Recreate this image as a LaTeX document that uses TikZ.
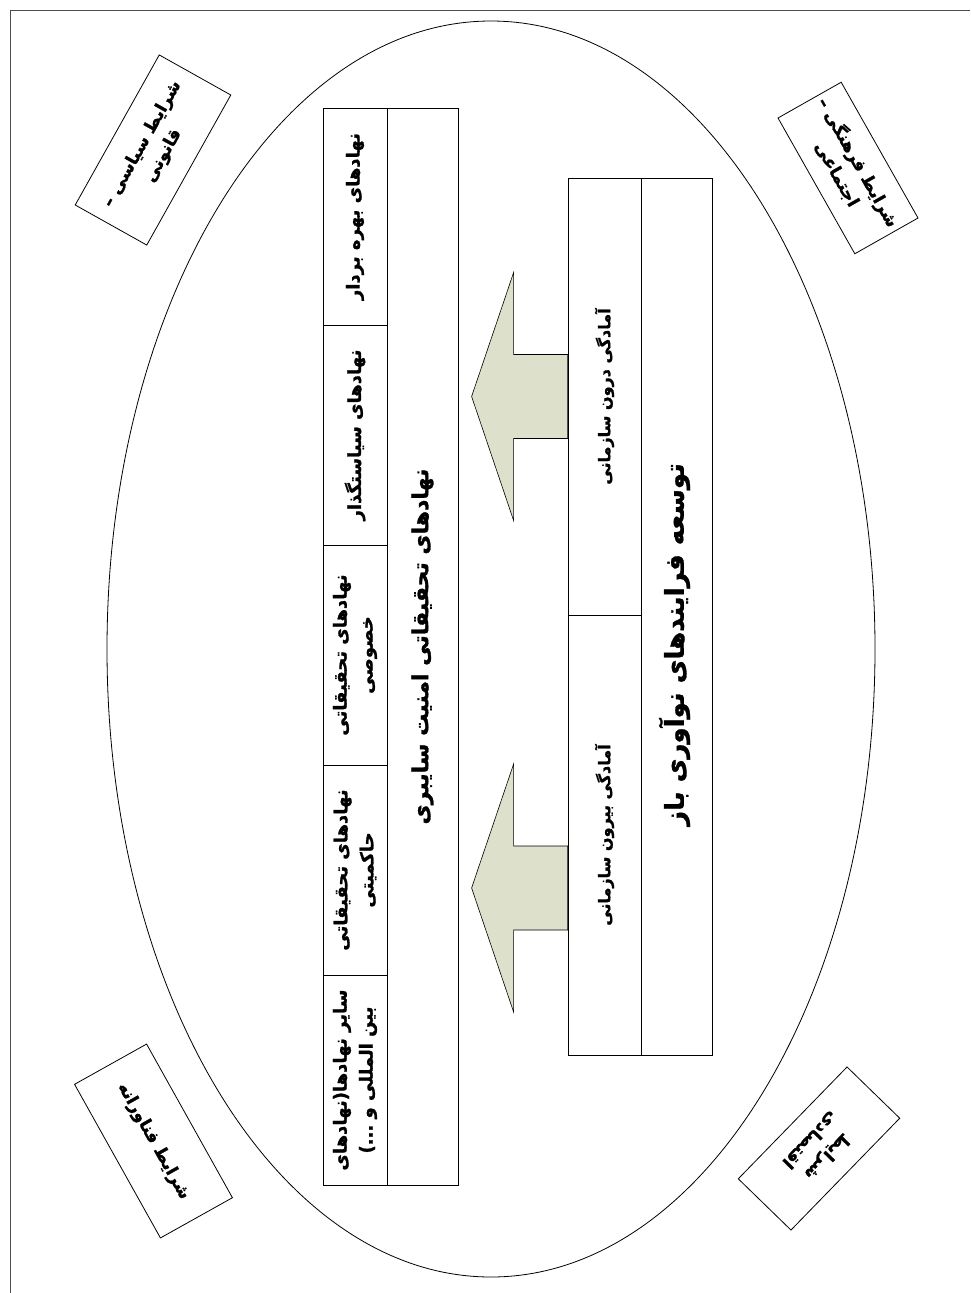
\documentclass[tikz,border=0pt]{standalone}
\usepackage{fontspec}
\newfontfamily\fa[Script=Arabic, BoldFont={DejaVu Sans Bold}, BoldFeatures={FakeBold=1.2}]{DejaVu Sans}
\TeXXeTstate=1
\definecolor{arrowfill}{RGB}{221,224,203}
\tikzset{
  frameline/.style={draw=black!70, line width=0.9pt},
  boxline/.style={draw, line width=0.8pt, inner sep=0pt, align=center},
  cornerbox/.style={boxline, font=\fa\bfseries\fontsize{17}{24}\selectfont},
  cell/.style={boxline, font=\fa\bfseries\fontsize{18}{26}\selectfont},
  smallcell/.style={boxline, font=\fa\bfseries\fontsize{16}{20}\selectfont},
  titletext/.style={inner sep=0pt, font=\fa\bfseries\fontsize{22}{26}\selectfont},
  bigtitletext/.style={inner sep=0pt, font=\fa\bfseries\fontsize{26}{30}\selectfont},
  bigarrow/.style={draw, line width=0.6pt, fill=arrowfill},
}
\begin{document}
\begin{tikzpicture}[x=1pt,y=-1pt]
\useasboundingbox (0,0) rectangle (970,1293);
\coordinate (fTL) at (10,10);
\coordinate (fTR) at (970,10);
\coordinate (fBL) at (10,1293);
\draw[frameline] (fTR) -- (fTL) -- (fBL);

% ellipse
\coordinate (ec) at (491,649);
\draw[line width=0.8pt] (ec) ellipse [x radius=384, y radius=628];

% corner boxes
\node[cornerbox, minimum width=172pt, minimum height=82pt, rotate=60.75] (pol) at (153,150)
  {\beginR شرایط سیاسی –\endR\\\beginR قانونی\endR};
\node[cornerbox, minimum width=156pt, minimum height=72.6pt, rotate=-60.5] (cul) at (848,168)
  {\beginR شرایط فرهنگی –\endR\\\beginR اجتماعی\endR};
\node[cornerbox, minimum width=176pt, minimum height=82.5pt, rotate=-60.8] (tec) at (153.5,1141)
  {\beginR شرایط فناورانه\endR};
\node[cornerbox, minimum width=156pt, minimum height=73.5pt, rotate=225.8] (eco) at (819,1148.5)
  {\beginR شرایط\endR\\\beginR اقتصادی\endR};

% top table
\node[boxline, rotate=90, minimum width=1077pt, minimum height=71pt] (t0) at (422.5,646.5) {};
\node[titletext, rotate=90] (t0txt) at (t0.center) {\beginR نهادهای تحقیقاتی امنیت سایبری\endR};
\node[cell, rotate=90, minimum width=217pt, minimum height=64pt] (t1) at (355,216.5)
  {\beginR نهادهای بهره بردار\endR};
\node[cell, rotate=90, minimum width=220pt, minimum height=64pt] (t2) at (355,435)
  {\beginR نهادهای سیاستگذار\endR};
\node[cell, rotate=90, minimum width=220pt, minimum height=64pt] (t3) at (355,655)
  {\beginR نهادهای تحقیقاتی\endR\\\beginR خصوصی\endR};
\node[cell, rotate=90, minimum width=210pt, minimum height=64pt] (t4) at (355,870)
  {\beginR نهادهای تحقیقاتی\endR\\\beginR حاکمیتی\endR};
\node[cell, rotate=90, minimum width=210pt, minimum height=64pt] (t5) at (355,1080)
  {\beginR سایر نهادها(نهادهای\endR\\\beginR بین المللی و ...)\endR};

% bottom table
\node[boxline, rotate=90, minimum width=877pt, minimum height=71pt] (b0) at (676.5,616.5) {};
\node[bigtitletext, rotate=90] (b0txt) at ([xshift=-2pt,yshift=-28pt]b0.center)
  {\beginR توسعه فرایندهای نوآوری باز\endR};
\node[smallcell, rotate=90, minimum width=437pt, minimum height=73pt] (b1) at (604.5,396.5)
  {\beginR آمادگی درون سازمانی\endR};
\node[smallcell, rotate=90, minimum width=440pt, minimum height=73pt] (b2) at (604.5,835)
  {\beginR آمادگی بیرون سازمانی\endR};

% arrows (from the lower table towards the upper table)
\coordinate (a1) at (b1.north);
\coordinate (a2) at ([yshift=-53pt]b2.north);
\draw[bigarrow] (a1) ++(0,-42) -- ++(-54,0) -- ++(0,-82) -- ++(-42,124)
  -- ++(42,124) -- ++(0,-82) -- ++(54,0) -- cycle;
\draw[bigarrow] (a2) ++(0,-42) -- ++(-54,0) -- ++(0,-82) -- ++(-42,124)
  -- ++(42,124) -- ++(0,-82) -- ++(54,0) -- cycle;
\end{tikzpicture}
\end{document}
